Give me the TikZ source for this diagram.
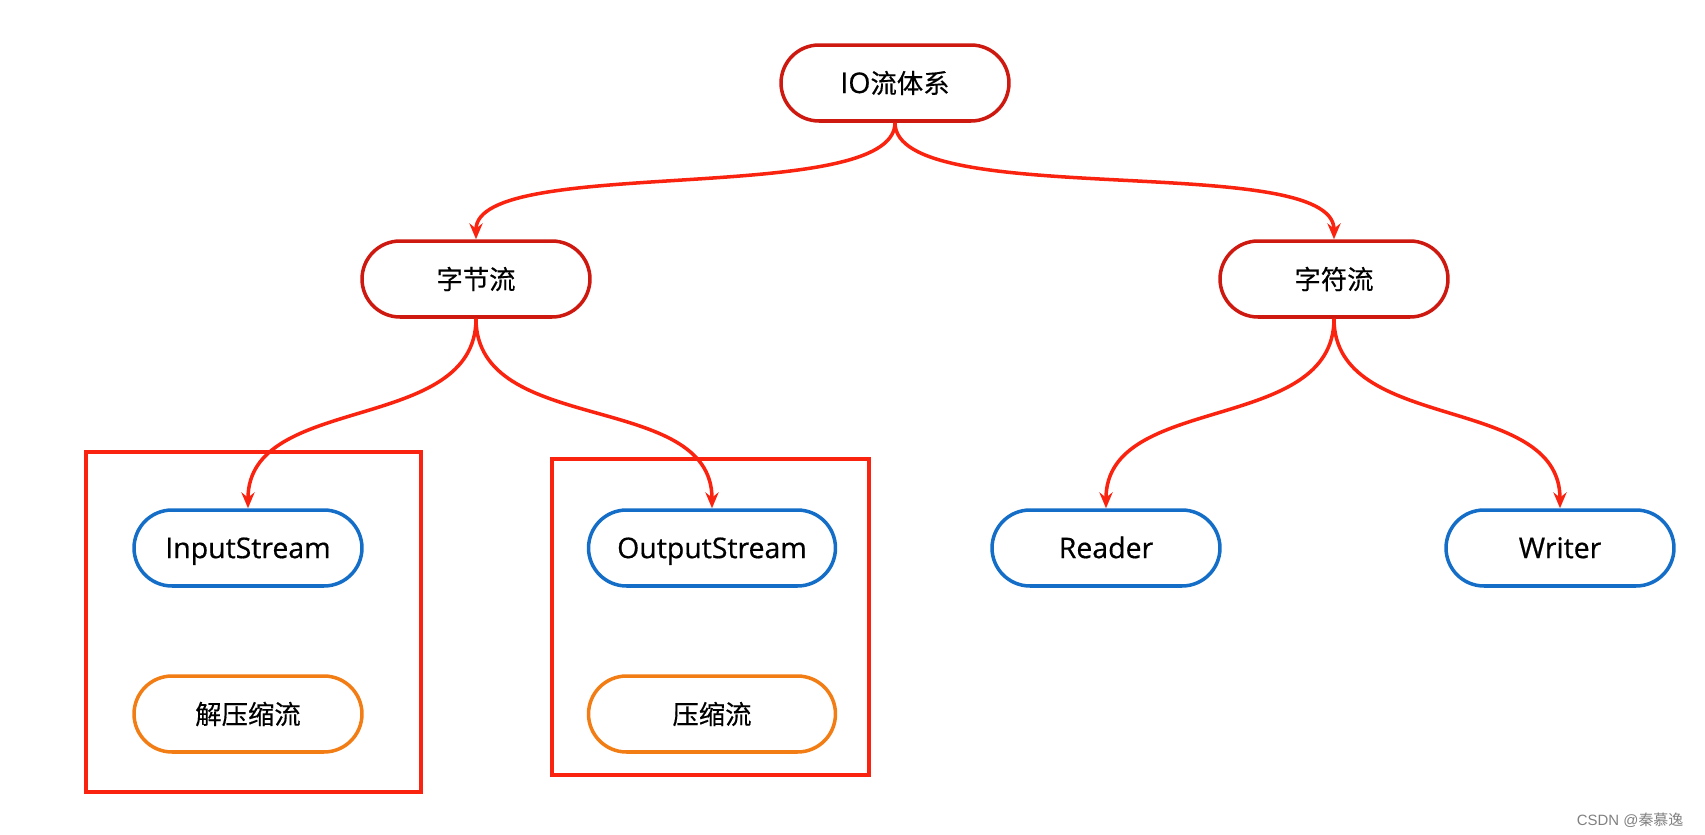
\documentclass[tikz,border=0pt]{standalone}
\usepackage{fontspec}
\setmainfont{Open Sans}[Scale=1.08,FakeBold=0.6]
\newfontfamily\cjk{Noto Sans CJK SC}[FakeBold=0.4]
\usetikzlibrary{arrows.meta}
\definecolor{sysred}{RGB}{205,25,15}
\definecolor{linkred}{RGB}{250,35,15}
\definecolor{streamblue}{RGB}{20,110,200}
\definecolor{ziporange}{RGB}{242,125,20}
\begin{document}
\begin{tikzpicture}[
   x=0.02cm,y=-0.02cm,
   font=\fontsize{15}{18}\selectfont,
   box/.style={draw,line width=2pt,rounded corners=0.76cm,minimum height=1.52cm,minimum width=4.56cm,inner sep=0pt},
   wide/.style={minimum width=4.94cm},
   sys/.style={box,draw=sysred},
   stream/.style={box,draw=streamblue,text height=11.5pt,text depth=0pt},
   zipped/.style={box,draw=ziporange},
   link/.style={-{Stealth[length=9pt,width=7.5pt]},line width=2pt,draw=linkred},
   group/.style={draw=linkred,line width=2pt}]
\useasboundingbox (0,0) rectangle (1705,835);
% top level
\node[sys] (io) at (895,83) {IO{\cjk 流体系}};
\node[sys] (byte) at (476,279) {\cjk 字节流};
\node[sys] (char) at (1334,279) {\cjk 字符流};
% leaves
\node[stream] (in) at (248,548) {InputStream};
\node[stream,wide] (out) at (712,548) {OutputStream};
\node[stream] (reader) at (1106,548) {Reader};
\node[stream] (writer) at (1560,548) {Writer};
\node[zipped] (unzip) at (248,714) {\cjk 解压缩流};
\node[zipped,wide] (zip) at (712,714) {\cjk 压缩流};
% groups
\draw[group] (86,452) rectangle (421,792);
\draw[group] (552,459) rectangle (869,775);
% links
\draw[link] (io.south) to[out=-90,in=90,looseness=0.5] (byte.north);
\draw[link] (io.south) to[out=-90,in=90,looseness=0.5] (char.north);
\draw[link] (byte.south) to[out=-90,in=90,looseness=1] (in.north);
\draw[link] (byte.south) to[out=-90,in=90,looseness=1] (out.north);
\draw[link] (char.south) to[out=-90,in=90,looseness=1] (reader.north);
\draw[link] (char.south) to[out=-90,in=90,looseness=1] (writer.north);
\node[anchor=east,text=gray,font=\fontsize{8.5}{10}\selectfont] (mark) at (1690,820) {\fontspec{Liberation Sans}CSDN @{\fontspec{Noto Sans CJK SC}秦慕逸}};
\end{tikzpicture}
\end{document}
